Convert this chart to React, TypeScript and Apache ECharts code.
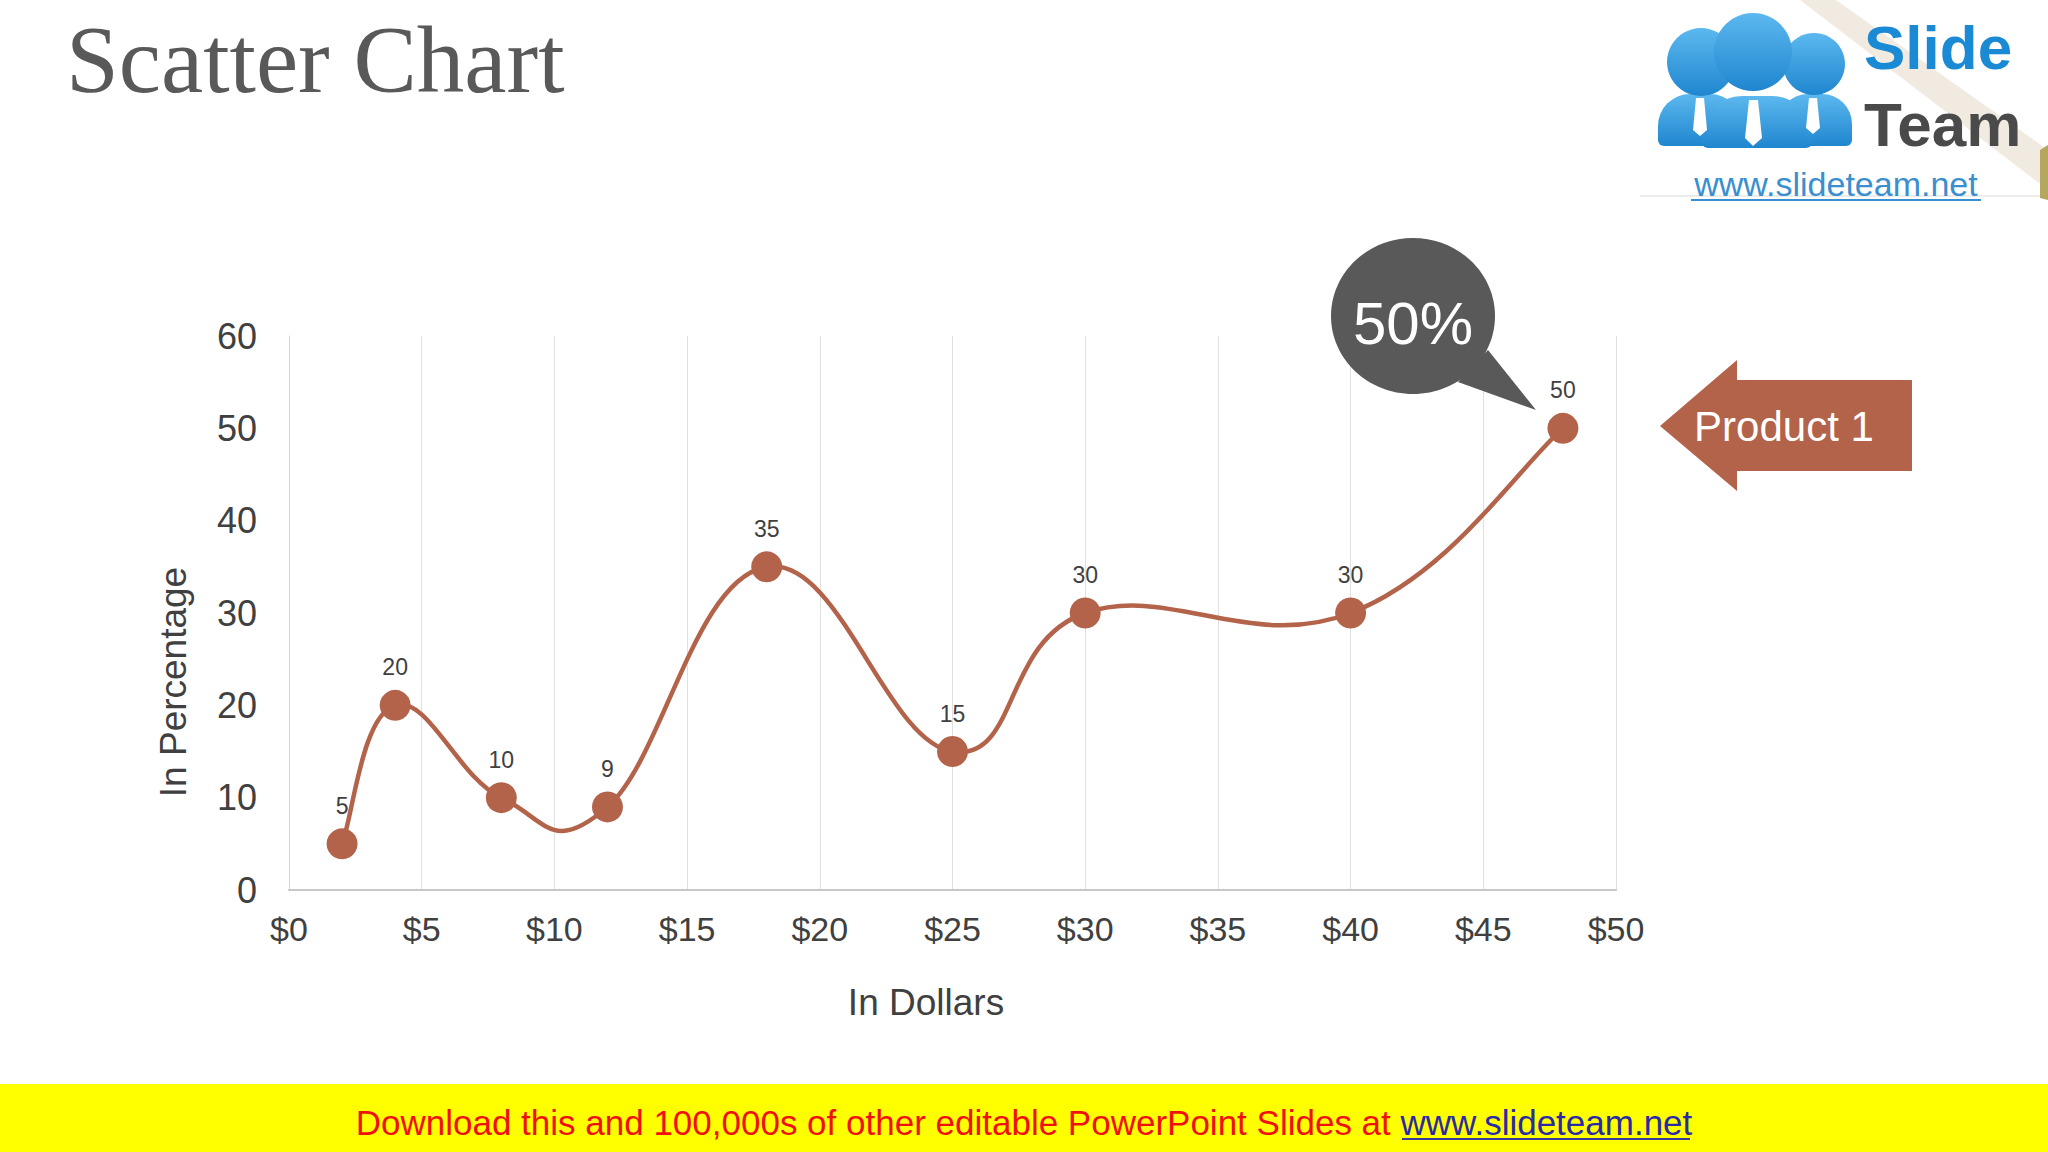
import React, { useEffect, useRef } from "react";
import * as echarts from "echarts";

const xValues = [2, 4, 8, 12, 18, 25, 30, 40, 48];
const yValues = [5, 20, 10, 9, 35, 15, 30, 30, 50];
const xTicks = { min: 0, max: 50, interval: 5 };
const yTicks = { min: 0, max: 60, interval: 10 };
const titleText = "Scatter Chart";
const xName = "In Dollars";
const yName = "In Percentage";
const calloutText = "50%";
const arrowText = "Product 1";
const bannerText = "Download this and 100,000s of other editable PowerPoint Slides at ";
const bannerLink = "www.slideteam.net";

const BROWN = "#B3634A";
const SANS = "'Liberation Sans', Arial, sans-serif";

export default function App() {
  const ref = useRef<HTMLDivElement>(null);
  useEffect(() => {
    document.body.style.margin = "0";
    const chart = echarts.init(ref.current!, null, { renderer: "svg" });
    const data = xValues.map((x, i) => [x, yValues[i]]);
    const blueGrad = new echarts.graphic.LinearGradient(0, 0, 0, 1, [
      { offset: 0, color: "#5cb8ee" },
      { offset: 1, color: "#1f86cf" },
    ]);
    const K = 0.21; // smoothing strength (Excel-like)
    const renderCurve = (params: any, api: any) => {
      const i = params.dataIndex;
      const n = data.length;
      if (i >= n - 1) return null;
      const P = (k: number) => api.coord(data[Math.max(0, Math.min(n - 1, k))]);
      const p0 = P(i - 1), p1 = P(i), p2 = P(i + 1), p3 = P(i + 2);
      return {
        type: "bezierCurve",
        shape: {
          x1: p1[0], y1: p1[1],
          x2: p2[0], y2: p2[1],
          cpx1: p1[0] + (p2[0] - p0[0]) * K,
          cpy1: p1[1] + (p2[1] - p0[1]) * K,
          cpx2: p2[0] - (p3[0] - p1[0]) * K,
          cpy2: p2[1] - (p3[1] - p1[1]) * K,
        },
        style: { stroke: BROWN, lineWidth: 4.5, fill: "none" },
      };
    };
    chart.setOption({
      animation: false,
      backgroundColor: "#ffffff",
      textStyle: { fontFamily: SANS },
      grid: { left: 289, right: 432, top: 336, bottom: 262, containLabel: false },
      xAxis: {
        type: "value",
        min: xTicks.min,
        max: xTicks.max,
        interval: xTicks.interval,
        axisLine: { show: true, lineStyle: { color: "#c8c8c8", width: 2 } },
        axisTick: { show: false },
        axisLabel: { fontSize: 34, color: "#404040", margin: 22, formatter: (v: number) => "$" + v },
        splitLine: { show: true, lineStyle: { color: "#e0e0e0", width: 1 } },
      },
      yAxis: {
        type: "value",
        min: yTicks.min,
        max: yTicks.max,
        interval: yTicks.interval,
        axisLine: { show: true, lineStyle: { color: "#d6d6d6", width: 1 } },
        axisTick: { show: false },
        axisLabel: { fontSize: 36, color: "#404040", margin: 32 },
        splitLine: { show: false },
      },
      series: [
        {
          type: "custom",
          data,
          encode: { x: 0, y: 1 },
          renderItem: renderCurve,
          silent: true,
          z: 2,
        },
        {
          type: "scatter",
          data,
          symbol: "circle",
          symbolSize: 31,
          itemStyle: { color: BROWN, opacity: 1 },
          label: { show: true, position: "top", distance: 11, fontSize: 23, color: "#404040", formatter: (p: any) => String(p.value[1]) },
          z: 3,
        },
      ],
      graphic: [
        // axis names
        {
          type: "text",
          x: 926,
          y: 1002,
          style: { text: xName, font: `37px ${SANS}`, fill: "#404040", align: "center", verticalAlign: "middle" },
        },
        {
          type: "text",
          x: 173,
          y: 682,
          rotation: Math.PI / 2,
          style: { text: yName, font: `37px ${SANS}`, fill: "#404040", align: "center", verticalAlign: "middle" },
        },
        // title
        {
          type: "text",
          x: 66,
          y: 60,
          style: {
            text: titleText,
            font: "95px 'Liberation Serif', 'DejaVu Serif', serif",
            fill: "#595959",
            verticalAlign: "middle",
          },
        },
        // callout bubble
        {
          type: "polygon",
          shape: { points: [[1488, 350], [1458, 382], [1536, 410]] },
          style: { fill: "#595959" },
          z: 10,
        },
        {
          type: "ellipse",
          shape: { cx: 1413, cy: 316, rx: 82, ry: 78 },
          style: { fill: "#595959" },
          z: 10,
        },
        {
          type: "text",
          x: 1413,
          y: 323,
          style: {
            text: calloutText,
            font: `60px ${SANS}`,
            fill: "#ffffff",
            align: "center",
            verticalAlign: "middle",
          },
          z: 11,
        },
        // arrow
        {
          type: "polygon",
          shape: {
            points: [
              [1660, 426],
              [1737, 360],
              [1737, 380],
              [1912, 380],
              [1912, 471],
              [1737, 471],
              [1737, 491],
            ],
          },
          style: { fill: BROWN },
          z: 10,
        },
        {
          type: "text",
          x: 1784,
          y: 426,
          style: {
            text: arrowText,
            font: `42px ${SANS}`,
            fill: "#ffffff",
            align: "center",
            verticalAlign: "middle",
          },
          z: 11,
        },
        // logo background band
        {
          type: "polygon",
          shape: { points: [[1800, 0], [1836, 0], [2048, 150], [2048, 190]] },
          style: { fill: "rgba(215,195,170,0.35)" },
          z: 1,
        },
        {
          type: "polygon",
          shape: { points: [[2040, 150], [2048, 145], [2048, 200], [2040, 198]] },
          style: { fill: "#b5a760" },
          z: 1,
        },
        {
          type: "line",
          shape: { x1: 1640, y1: 196, x2: 2048, y2: 196 },
          style: { stroke: "#d9d9d9", lineWidth: 1 },
        },
        // logo people bodies
        { type: "rect", shape: { x: 1658, y: 94, width: 84, height: 52, r: [32, 32, 6, 6] }, style: { fill: blueGrad }, z: 5 },
        { type: "rect", shape: { x: 1778, y: 94, width: 74, height: 52, r: [30, 30, 6, 6] }, style: { fill: blueGrad }, z: 5 },
        { type: "rect", shape: { x: 1702, y: 96, width: 110, height: 52, r: [40, 40, 6, 6] }, style: { fill: blueGrad }, z: 6 },
        // heads
        { type: "circle", shape: { cx: 1701, cy: 62, r: 34 }, style: { fill: blueGrad }, z: 5 },
        { type: "circle", shape: { cx: 1814, cy: 64, r: 31 }, style: { fill: blueGrad }, z: 5 },
        { type: "circle", shape: { cx: 1753, cy: 52, r: 39 }, style: { fill: blueGrad }, z: 6 },
        // ties
        { type: "polygon", shape: { points: [[1696, 98], [1704, 98], [1707, 130], [1700, 136], [1693, 130]] }, style: { fill: "#ffffff" }, z: 7 },
        { type: "polygon", shape: { points: [[1749, 100], [1758, 100], [1762, 138], [1753, 146], [1745, 138]] }, style: { fill: "#ffffff" }, z: 7 },
        { type: "polygon", shape: { points: [[1809, 98], [1817, 98], [1820, 128], [1813, 134], [1806, 128]] }, style: { fill: "#ffffff" }, z: 7 },
        // logo texts
        {
          type: "text",
          x: 1864,
          y: 78,
          style: { text: "Slide", font: `bold 62px ${SANS}`, fill: "#1b8ad4", verticalAlign: "bottom" },
          z: 7,
        },
        {
          type: "text",
          x: 1864,
          y: 155,
          style: { text: "Team", font: `bold 62px ${SANS}`, fill: "#4a4a4a", verticalAlign: "bottom" },
          z: 7,
        },
        {
          type: "text",
          x: 1836,
          y: 184,
          style: {
            text: bannerLink,
            font: `34px ${SANS}`,
            fill: "#3a8fd0",
            align: "center",
            verticalAlign: "middle",
          },
          z: 7,
        },
        { type: "line", shape: { x1: 1691, y1: 200, x2: 1981, y2: 200 }, style: { stroke: "#3a8fd0", lineWidth: 2 }, z: 7 },
        // bottom banner
        {
          type: "rect",
          shape: { x: 0, y: 1084, width: 2048, height: 68 },
          style: { fill: "#ffff00" },
          z: 1,
        },
        {
          type: "text",
          x: 1024,
          y: 1122,
          style: {
            text: `{a|${bannerText}}{b|${bannerLink}}`,
            font: `35px ${SANS}`,
            align: "center",
            verticalAlign: "middle",
            rich: {
              a: { fill: "#f01010", font: `35px ${SANS}` },
              b: { fill: "#2a2aa8", font: `35px ${SANS}` },
            },
          },
          z: 2,
        },
        { type: "line", shape: { x1: 1402, y1: 1139, x2: 1690, y2: 1139 }, style: { stroke: "#3a3a9a", lineWidth: 2 }, z: 2 },
      ],
    });
    return () => chart.dispose();
  }, []);
  return <div ref={ref} style={{ position: "fixed", left: 0, top: 0, width: 2048, height: 1152 }} />;
}
